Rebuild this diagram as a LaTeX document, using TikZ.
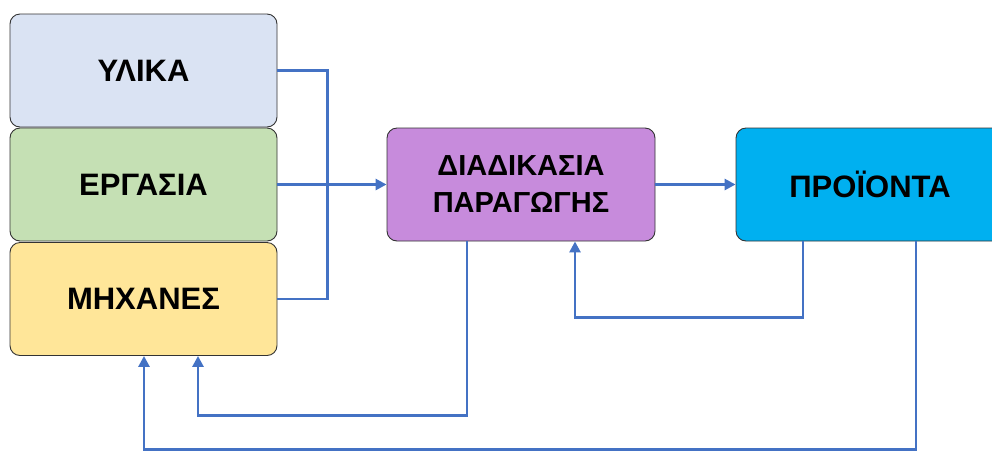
\documentclass[tikz,border=0pt]{standalone}
\usepackage{fontspec}
\setmainfont{Liberation Sans}
\usetikzlibrary{arrows.meta}
\definecolor{lnc}{HTML}{4472C4}
\definecolor{cyl}{HTML}{DAE3F3}
\definecolor{cer}{HTML}{C5E0B4}
\definecolor{cmx}{HTML}{FFE699}
\definecolor{cdp}{HTML}{C78BDC}
\definecolor{cpr}{HTML}{00B0F0}
\tikzset{
  box/.style={draw=black!80, line width=0.9pt, rounded corners=10pt, minimum width=267pt, minimum height=113pt, inner sep=0pt, font=\bfseries\fontsize{31}{37}\selectfont, align=center},
  flow/.style={draw=lnc, line width=2.7pt},
  arr/.style={flow, -{Triangle[length=11pt,width=11pt]}}
}
\begin{document}
\begin{tikzpicture}[x=1pt,y=-1pt]
\clip (0,0) rectangle (992,451);
\fill[white] (0,0) rectangle (992,451);
\node[box, fill=cyl] (yl) at (143.5,70.5) {ΥΛΙΚΑ};
\node[box, fill=cer] (er) at (143.5,184.5) {ΕΡΓΑΣΙΑ};
\node[box, fill=cmx] (mx) at (143.5,299) {ΜΗΧΑΝΕΣ};
\node[box, fill=cdp, minimum width=268pt, font=\bfseries\fontsize{29}{37}\selectfont] (dp) at (521,184.5) {ΔΙΑΔΙΚΑΣΙΑ\\ΠΑΡΑΓΩΓΗΣ};
\node[box, fill=cpr, minimum width=268pt] (pr) at (870,184.5) {ΠΡΟΪΟΝΤΑ};
\draw[flow] (yl.east) -- ++(50,0) |- (mx.east);
\draw[arr] (er.east) -- (dp.west);
\draw[arr] (dp.east) -- (pr.west);
\draw[arr] ([xshift=-67pt]pr.south) -- ++(0,76) -| ([xshift=54pt]dp.south);
\draw[arr] ([xshift=-54pt]dp.south) -- ++(0,174) -| ([xshift=54.5pt]mx.south);
\draw[arr] ([xshift=46pt]pr.south) -- ++(0,208) -| ([xshift=0.5pt]mx.south);
\end{tikzpicture}
\end{document}
